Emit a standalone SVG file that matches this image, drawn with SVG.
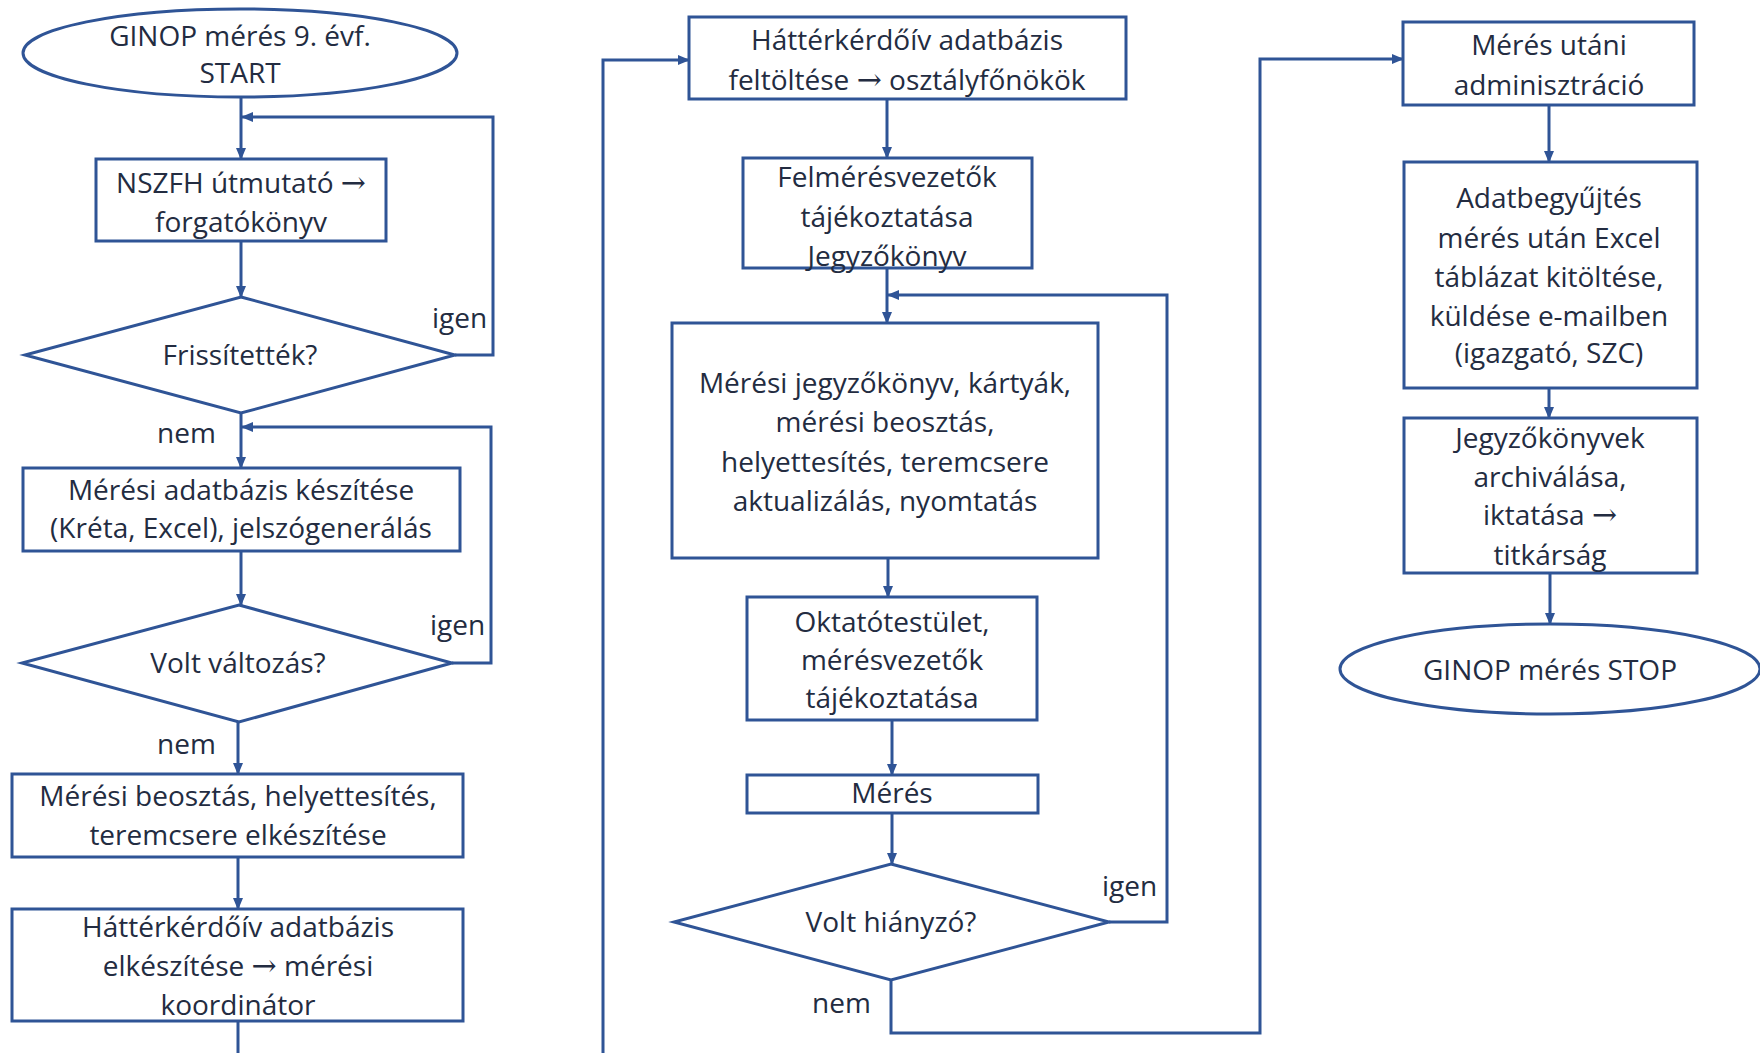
<svg xmlns="http://www.w3.org/2000/svg" width="1760" height="1053" viewBox="0 0 1760 1053">
  <defs>
    <marker id="arr" markerUnits="userSpaceOnUse" markerWidth="12" markerHeight="12" viewBox="0 0 12 12" refX="11" refY="6" orient="auto">
      <path d="M0,1 L12,6 L0,11 Z" fill="#2F5496"/>
    </marker>
    <style>
      .shape { fill: #ffffff; stroke: #2F5496; stroke-width: 3; }
      .wire { fill: none; stroke: #2F5496; stroke-width: 3; }
      .arrow { fill: none; stroke: #2F5496; stroke-width: 3; marker-end: url(#arr); }
      text { font-family: "Open Sans", "Liberation Sans", sans-serif; font-size: 28px; fill: #232C41; }
      .c { text-anchor: middle; }
      .sym { font-family: "DejaVu Serif", "DejaVu Sans", serif; font-size: 30px; }
    </style>
  </defs>
  <rect width="1760" height="1053" fill="#ffffff"/>

  <!-- connectors -->
  <g id="connectors">
    <path class="arrow" d="M241,98 V159"/>
    <path class="arrow" d="M455,355 H493 V117 H242"/>
    <path class="arrow" d="M241,241 V297"/>
    <path class="arrow" d="M241,413 V468"/>
    <path class="arrow" d="M452,663 H491 V427 H242"/>
    <path class="arrow" d="M241,551 V605"/>
    <path class="arrow" d="M238,722 V774"/>
    <path class="arrow" d="M238,857 V909"/>
    <path class="wire" d="M238,1021 V1056"/>
    <path class="arrow" d="M603,1056 V60 H689"/>
    <path class="arrow" d="M887,99 V158"/>
    <path class="arrow" d="M887,268 V323"/>
    <path class="arrow" d="M1109,922 H1167 V295 H888"/>
    <path class="arrow" d="M888,558 V597"/>
    <path class="arrow" d="M892,720 V775"/>
    <path class="arrow" d="M892,813 V864"/>
    <path class="arrow" d="M891,980 V1033 H1260 V59 H1403"/>
    <path class="arrow" d="M1549,105 V162"/>
    <path class="arrow" d="M1549,388 V418"/>
    <path class="arrow" d="M1550,573 V624"/>
    <!-- branch labels -->
    <text x="432" y="328">igen</text>
    <text x="157" y="443">nem</text>
    <text x="430" y="635">igen</text>
    <text x="157" y="754">nem</text>
    <text x="1102" y="896">igen</text>
    <text x="812" y="1013">nem</text>
  </g>

  <!-- left column -->
  <g id="start">
    <ellipse class="shape" cx="240" cy="53" rx="217" ry="44"/>
    <text class="c" x="240" y="46">GINOP mérés 9. évf.</text>
    <text class="c" x="240" y="83">START</text>
  </g>
  <g id="nszfh">
    <rect class="shape" x="96" y="159" width="290" height="82"/>
    <text class="c" x="241" y="193">NSZFH útmutató <tspan class="sym">→</tspan></text>
    <text class="c" x="241" y="232">forgatókönyv</text>
  </g>
  <g id="frissitettek">
    <polygon class="shape" points="241,297 455,355 241,413 25,355"/>
    <text class="c" x="240" y="365">Frissítették?</text>
  </g>
  <g id="adatbazis">
    <rect class="shape" x="23" y="468" width="437" height="83"/>
    <text class="c" x="241" y="500">Mérési adatbázis készítése</text>
    <text class="c" x="241" y="538">(Kréta, Excel), jelszógenerálás</text>
  </g>
  <g id="valtozas">
    <polygon class="shape" points="239,605 452,663 239,722 22,663"/>
    <text class="c" x="238" y="673">Volt változás?</text>
  </g>
  <g id="beosztas">
    <rect class="shape" x="12" y="774" width="451" height="83"/>
    <text class="c" x="238" y="806">Mérési beosztás, helyettesítés,</text>
    <text class="c" x="238" y="845">teremcsere elkészítése</text>
  </g>
  <g id="hatter-keszites">
    <rect class="shape" x="12" y="909" width="451" height="112"/>
    <text class="c" x="238" y="937">Háttérkérdőív adatbázis</text>
    <text class="c" x="238" y="976">elkészítése <tspan class="sym">→</tspan> mérési</text>
    <text class="c" x="238" y="1015">koordinátor</text>
  </g>

  <!-- middle column -->
  <g id="hatter-feltoltes">
    <rect class="shape" x="689" y="17" width="437" height="82"/>
    <text class="c" x="907" y="50">Háttérkérdőív adatbázis</text>
    <text class="c" x="907" y="90">feltöltése <tspan class="sym">→</tspan> osztályfőnökök</text>
  </g>
  <g id="felmeresvezetok">
    <rect class="shape" x="743" y="158" width="289" height="110"/>
    <text class="c" x="887" y="187">Felmérésvezetők</text>
    <text class="c" x="887" y="227">tájékoztatása</text>
    <text class="c" x="887" y="266">Jegyzőkönyv</text>
  </g>
  <g id="jegyzokonyv">
    <rect class="shape" x="672" y="323" width="426" height="235"/>
    <text class="c" x="885" y="393">Mérési jegyzőkönyv, kártyák,</text>
    <text class="c" x="885" y="432">mérési beosztás,</text>
    <text class="c" x="885" y="472">helyettesítés, teremcsere</text>
    <text class="c" x="885" y="511">aktualizálás, nyomtatás</text>
  </g>
  <g id="oktatotestulet">
    <rect class="shape" x="747" y="597" width="290" height="123"/>
    <text class="c" x="892" y="632">Oktatótestület,</text>
    <text class="c" x="892" y="670">mérésvezetők</text>
    <text class="c" x="892" y="708">tájékoztatása</text>
  </g>
  <g id="meres">
    <rect class="shape" x="747" y="775" width="291" height="38"/>
    <text class="c" x="892" y="803">Mérés</text>
  </g>
  <g id="hianyzo">
    <polygon class="shape" points="891,864 1109,922 891,980 674,922"/>
    <text class="c" x="891" y="932">Volt hiányzó?</text>
  </g>

  <!-- right column -->
  <g id="adminisztracio">
    <rect class="shape" x="1403" y="22" width="291" height="83"/>
    <text class="c" x="1549" y="55">Mérés utáni</text>
    <text class="c" x="1549" y="95">adminisztráció</text>
  </g>
  <g id="adatbegyujtes">
    <rect class="shape" x="1404" y="162" width="293" height="226"/>
    <text class="c" x="1549" y="208">Adatbegyűjtés</text>
    <text class="c" x="1549" y="248">mérés után Excel</text>
    <text class="c" x="1549" y="287">táblázat kitöltése,</text>
    <text class="c" x="1549" y="326">küldése e-mailben</text>
    <text class="c" x="1549" y="363">(igazgató, SZC)</text>
  </g>
  <g id="archivalas">
    <rect class="shape" x="1404" y="418" width="293" height="155"/>
    <text class="c" x="1550" y="448">Jegyzőkönyvek</text>
    <text class="c" x="1550" y="487">archiválása,</text>
    <text class="c" x="1550" y="525">iktatása <tspan class="sym">→</tspan></text>
    <text class="c" x="1550" y="565">titkárság</text>
  </g>
  <g id="stop">
    <ellipse class="shape" cx="1550" cy="669" rx="210" ry="45"/>
    <text class="c" x="1550" y="680">GINOP mérés STOP</text>
  </g>
</svg>
